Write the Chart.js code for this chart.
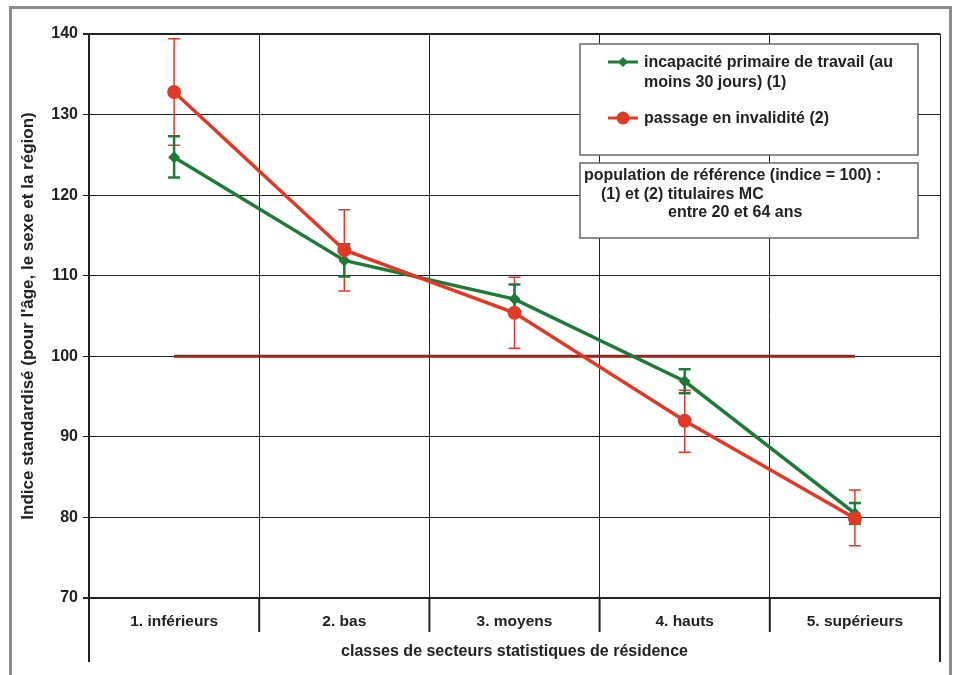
<!DOCTYPE html>
<html>
<head>
<meta charset="utf-8">
<script src="https://cdn.jsdelivr.net/npm/chart.js@4.4.1/dist/chart.umd.min.js"></script>
<style>
  html, body { margin: 0; padding: 0; background: #fff; }
  #wrap { width: 960px; height: 675px; }
</style>
</head>
<body>
<div id="wrap"><canvas id="chart" width="960" height="675"></canvas></div>
<script>
// Données
const categories = ["1. inférieurs", "2. bas", "3. moyens", "4. hauts", "5. supérieurs"];

const incapacite = [124.7, 111.9, 107.1, 96.9, 80.5];
const incapaciteLow = [122.2, 109.9, 105.3, 95.4, 79.2];
const incapaciteHigh = [127.3, 113.9, 108.9, 98.4, 81.8];

const invalidite = [132.8, 113.2, 105.4, 92.0, 79.9];
const invaliditeLow = [126.2, 108.1, 101.0, 88.1, 76.5];
const invaliditeHigh = [139.4, 118.2, 109.8, 95.8, 83.4];

const reference = [100, 100, 100, 100, 100];
const yTicks = [70, 80, 90, 100, 110, 120, 130, 140];

const legendLabels = [
  ["incapacité primaire de travail (au", "moins 30 jours) (1)"],
  ["passage en invalidité (2)"],
];
const noteLines = [
  "population de référence (indice = 100) :",
  "(1) et (2) titulaires MC",
  "entre 20 et 64 ans",
];

const GREEN = "#1f7a3a";
const RED = "#e03a26";
const DARKRED = "#a31d1d";
const FONT = "'Liberation Sans', Arial, sans-serif";

// Barres d'erreur dessinées avec les échelles du graphique
const errorBars = {
  id: "errorBars",
  beforeDatasetsDraw(chart) {
    const { ctx, scales } = chart;
    const sets = [
      { low: invaliditeLow, high: invaliditeHigh, color: RED, width: 1.5 },
      { low: incapaciteLow, high: incapaciteHigh, color: GREEN, width: 2.5 },
    ];
    ctx.save();
    sets.forEach((s) => {
      ctx.strokeStyle = s.color;
      ctx.lineWidth = s.width;
      s.low.forEach((lo, i) => {
        const x = scales.x.getPixelForValue(i);
        const y1 = scales.y.getPixelForValue(lo);
        const y2 = scales.y.getPixelForValue(s.high[i]);
        ctx.beginPath();
        ctx.moveTo(x, y1);
        ctx.lineTo(x, y2);
        ctx.moveTo(x - 6, y1);
        ctx.lineTo(x + 6, y1);
        ctx.moveTo(x - 6, y2);
        ctx.lineTo(x + 6, y2);
        ctx.stroke();
      });
    });
    ctx.restore();
  },
};

// Cadre, prolongements des axes, légende et encadré
const decor = {
  id: "decor",
  beforeDraw(chart) {
    const { ctx } = chart;
    ctx.save();
    ctx.fillStyle = "#fff";
    ctx.fillRect(0, 0, chart.width, chart.height);
    ctx.strokeStyle = "#8c8c8c";
    ctx.lineWidth = 3;
    ctx.strokeRect(10.5, 7.5, 940, 690);
    ctx.restore();
  },
  afterDraw(chart) {
    const { ctx, chartArea, scales } = chart;
    const xs = scales.x;
    const half = (xs.getPixelForValue(1) - xs.getPixelForValue(0)) / 2;
    ctx.save();
    ctx.strokeStyle = "#222";
    ctx.lineWidth = 2;
    ctx.beginPath();
    ctx.moveTo(chartArea.left, chartArea.bottom);
    ctx.lineTo(chartArea.left, chartArea.bottom + 64);
    ctx.moveTo(chartArea.right, chartArea.bottom);
    ctx.lineTo(chartArea.right, chartArea.bottom + 64);
    for (let i = 1; i < categories.length; i++) {
      const x = xs.getPixelForValue(i) - half;
      ctx.moveTo(x, chartArea.bottom);
      ctx.lineTo(x, chartArea.bottom + 34);
    }
    ctx.stroke();

    // Légende
    ctx.fillStyle = "#fff";
    ctx.strokeStyle = "#666";
    ctx.lineWidth = 1.5;
    ctx.fillRect(580, 44, 338, 111);
    ctx.strokeRect(580, 44, 338, 111);
    const items = [
      { color: GREEN, y: 62, style: "rectRot", r: 5 },
      { color: RED, y: 118, style: "circle", r: 6.5 },
    ];
    ctx.font = "bold 16px " + FONT;
    ctx.textBaseline = "middle";
    items.forEach((it, i) => {
      ctx.strokeStyle = it.color;
      ctx.lineWidth = 3;
      ctx.beginPath();
      ctx.moveTo(608, it.y);
      ctx.lineTo(638, it.y);
      ctx.stroke();
      ctx.fillStyle = it.color;
      Chart.helpers.drawPoint(ctx, { pointStyle: it.style, radius: it.r, borderWidth: 0 }, 623, it.y);
      ctx.fillStyle = "#222";
      legendLabels[i].forEach((t, j) => ctx.fillText(t, 644, it.y + 1 + j * 20));
    });

    // Encadré population de référence
    ctx.fillStyle = "#fff";
    ctx.strokeStyle = "#666";
    ctx.lineWidth = 1.5;
    ctx.fillRect(580, 163, 338, 75);
    ctx.strokeRect(580, 163, 338, 75);
    ctx.fillStyle = "#222";
    ctx.font = "bold 16px " + FONT;
    const indent = [584, 601, 668];
    noteLines.forEach((t, j) => ctx.fillText(t, indent[j], 176 + j * 18.5));
    ctx.restore();
  },
};

const ctx = document.getElementById("chart").getContext("2d");
new Chart(ctx, {
  type: "line",
  data: {
    labels: categories,
    datasets: [
      {
        label: "incapacité primaire de travail (au moins 30 jours) (1)",
        data: incapacite,
        borderColor: GREEN,
        backgroundColor: GREEN,
        borderWidth: 3.5,
        pointStyle: "rectRot",
        pointRadius: 6,
        pointBorderWidth: 0,
        order: 1,
      },
      {
        label: "passage en invalidité (2)",
        data: invalidite,
        borderColor: RED,
        backgroundColor: RED,
        borderWidth: 3.5,
        pointStyle: "circle",
        pointRadius: 7,
        pointBorderWidth: 0,
        order: 0,
      },
      {
        label: "référence",
        data: reference,
        borderColor: DARKRED,
        borderWidth: 3,
        pointRadius: 0,
        order: 2,
      },
    ],
  },
  options: {
    responsive: false,
    animation: false,
    layout: { padding: { top: 34, right: 20, left: 0, bottom: 0 } },
    plugins: { legend: { display: false }, tooltip: { enabled: false } },
    scales: {
      x: {
        offset: true,
        grid: { offset: true, color: "#222", lineWidth: 1, drawTicks: false },
        border: { color: "#222", width: 2 },
        ticks: { color: "#222", padding: 14, font: { family: FONT, size: 15.5, weight: "bold" } },
        title: {
          display: true,
          text: "classes de secteurs statistiques de résidence",
          color: "#222",
          font: { family: FONT, size: 16, weight: "bold" },
          padding: { top: 0, bottom: 14 },
        },
        afterFit(scale) { scale.height = 77; },
      },
      y: {
        min: 70,
        max: 140,
        afterBuildTicks(scale) { scale.ticks = yTicks.map((v) => ({ value: v })); },
        grid: {
          color: "#222",
          lineWidth: (c) => (c.tick && (c.tick.value === 140 || c.tick.value === 70) ? 2 : 1),
          tickLength: 6,
        },
        border: { color: "#222", width: 2 },
        ticks: { color: "#222", padding: 5, font: { family: FONT, size: 16, weight: "bold" } },
        title: {
          display: true,
          text: "Indice standardisé (pour l'âge, le sexe et la région)",
          color: "#222",
          font: { family: FONT, size: 17, weight: "bold" },
          padding: { top: 18, bottom: 0 },
        },
        afterFit(scale) { scale.width = 89; },
      },
    },
  },
  plugins: [decor, errorBars],
});
</script>
</body>
</html>
